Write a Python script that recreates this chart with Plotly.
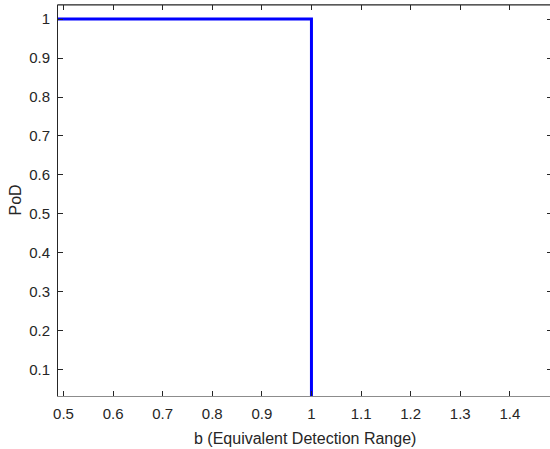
import plotly.graph_objects as go

b_vals = [0.489, 1.0, 1.0]
pod_vals = [1.0, 1.0, 0.0]
x_ticks = [0.5, 0.6, 0.7, 0.8, 0.9, 1.0, 1.1, 1.2, 1.3, 1.4]
x_tick_labels = ["0.5", "0.6", "0.7", "0.8", "0.9", "1", "1.1", "1.2", "1.3", "1.4"]
y_ticks = [0.1, 0.2, 0.3, 0.4, 0.5, 0.6, 0.7, 0.8, 0.9, 1.0]
y_tick_labels = ["0.1", "0.2", "0.3", "0.4", "0.5", "0.6", "0.7", "0.8", "0.9", "1"]

FONT = "Liberation Sans, Arial, sans-serif"

fig = go.Figure()
fig.add_trace(go.Scatter(x=b_vals, y=pod_vals, mode="lines",
                         line=dict(color="#0000FF", width=3), showlegend=False))

axis_common = dict(showgrid=False, zeroline=False, showline=True, mirror="ticks",
                   linewidth=1, ticks="inside", ticklen=5,
                   tickcolor="#262626", automargin=False,
                   tickfont=dict(family=FONT, size=15, color="#262626"))

fig.update_layout(
    width=552, height=449,
    margin=dict(l=58, r=0, t=5, b=53),
    paper_bgcolor="white", plot_bgcolor="white",
    xaxis=dict(range=[0.489, 1.485], tickvals=x_ticks, ticktext=x_tick_labels,
               linecolor="#8c8c8c", ticklabelstandoff=4, **axis_common),
    yaxis=dict(range=[0.033, 1.036], tickvals=y_ticks, ticktext=y_tick_labels,
               linecolor="#262626", ticklabelstandoff=4, **axis_common),
    shapes=[
        dict(type="line", xref="paper", yref="paper", x0=0, x1=1, y0=1, y1=1,
             line=dict(color="#262626", width=1)),
    ],
    annotations=[
        dict(text="b (Equivalent Detection Range)", xref="paper", yref="paper",
             x=0.5, y=0, yshift=-42, xanchor="center", yanchor="middle", showarrow=False,
             font=dict(family=FONT, size=16, color="#262626")),
        dict(text="PoD", xref="paper", yref="paper", textangle=-90,
             x=0, y=0.5, xshift=-43, xanchor="center", yanchor="middle", showarrow=False,
             font=dict(family=FONT, size=16, color="#262626")),
    ],
)

fig.write_html("out.html", config={"displayModeBar": False},
               post_script="document.body.style.margin='0';document.body.style.overflow='hidden';")
